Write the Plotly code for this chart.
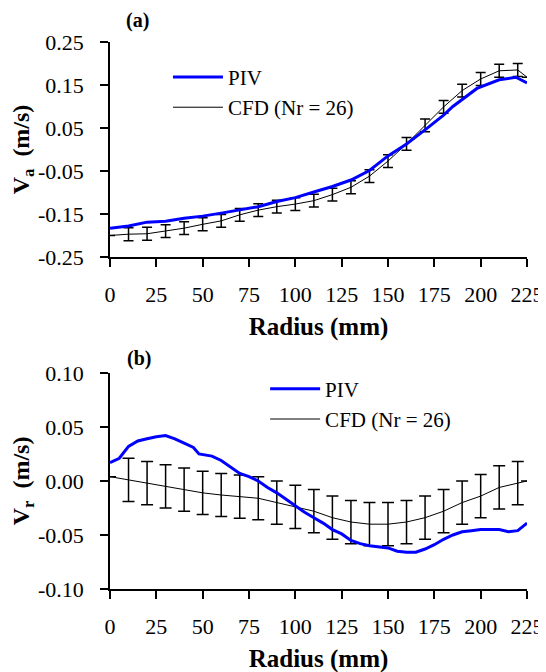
import plotly.graph_objects as go

# ---------------- data ----------------
radius_cfd = [0, 10, 20, 30, 40, 50, 60, 70, 80, 90, 100, 110, 120, 130, 140,
              150, 160, 170, 180, 190, 200, 210, 220, 225]
va_cfd = [-0.200, -0.197, -0.196, -0.190, -0.183, -0.174, -0.166, -0.152, -0.141,
          -0.133, -0.127, -0.119, -0.105, -0.088, -0.062, -0.027, 0.013, 0.056,
          0.099, 0.137, 0.164, 0.183, 0.185, 0.168]
va_cfd_err = [None] + [0.015] * 22 + [None]

vr_cfd = [0.004, 0.001, -0.002, -0.005, -0.008, -0.011, -0.013, -0.0145, -0.016,
          -0.020, -0.024, -0.028, -0.034, -0.038, -0.040, -0.040, -0.038, -0.034,
          -0.028, -0.020, -0.014, -0.006, -0.002, 0.000]
vr_cfd_err = [None] + [0.02] * 22 + [None]

radius_piv_a = [0, 10, 20, 30, 40, 50, 60, 70, 80, 90, 100, 110, 120, 130, 140,
                150, 160, 171, 180, 185, 190, 198, 210, 219, 225]
va_piv = [-0.183, -0.178, -0.169, -0.167, -0.160, -0.155, -0.148, -0.141, -0.133,
          -0.121, -0.112, -0.099, -0.086, -0.071, -0.049, -0.015, 0.013, 0.049,
          0.080, 0.100, 0.116, 0.142, 0.162, 0.168, 0.155]

radius_piv_b = [0, 5, 10, 15, 20, 25, 30, 35, 40, 45, 48, 55, 60, 65, 70, 75, 80,
                85, 90, 95, 100, 105, 110, 115, 120, 125, 130, 135, 140, 145, 150,
                155, 160, 165, 170, 175, 180, 185, 190, 195, 200, 205, 210, 215,
                220, 225]
vr_piv = [0.017, 0.021, 0.032, 0.037, 0.039, 0.041, 0.042, 0.039, 0.035, 0.031,
          0.025, 0.023, 0.019, 0.013, 0.007, 0.004, 0.000, -0.006, -0.011, -0.017,
          -0.023, -0.029, -0.034, -0.039, -0.045, -0.049, -0.055, -0.058, -0.060,
          -0.061, -0.062, -0.065, -0.066, -0.066, -0.063, -0.059, -0.054, -0.050,
          -0.047, -0.046, -0.045, -0.045, -0.045, -0.047, -0.046, -0.039]

x_ticks = [0, 25, 50, 75, 100, 125, 150, 175, 200, 225]
x_ticktext = [str(v) for v in x_ticks]
ya_ticks = [-0.25, -0.15, -0.05, 0.05, 0.15, 0.25]
ya_ticktext = ["-0.25", "-0.15", "-0.05", "0.05", "0.15", "0.25"]
ya_all_ticks = [-0.25, -0.20, -0.15, -0.10, -0.05, 0.00, 0.05, 0.10, 0.15, 0.20, 0.25]
yb_ticks = [-0.10, -0.05, 0.00, 0.05, 0.10]
yb_ticktext = ["-0.10", "-0.05", "0.00", "0.05", "0.10"]
yb_all_ticks = [-0.10, -0.075, -0.05, -0.025, 0.00, 0.025, 0.05, 0.075, 0.10]

series_names = ["PIV", "CFD (Nr = 26)"]

# ---------------- figure ----------------
FONT = "Times New Roman, Liberation Serif, serif"
fig = go.Figure()

# panel (a)
fig.add_trace(go.Scatter(
    x=radius_cfd, y=va_cfd, mode="lines", name=series_names[1],
    line=dict(color="black", width=1),
    error_y=dict(type="data", array=va_cfd_err, color="black", thickness=1.5, width=5),
    xaxis="x", yaxis="y", legend="legend", legendrank=2))
fig.add_trace(go.Scatter(
    x=radius_piv_a, y=va_piv, mode="lines", name=series_names[0],
    line=dict(color="#0000ff", width=3),
    xaxis="x", yaxis="y", legend="legend", legendrank=1))

# panel (b)
fig.add_trace(go.Scatter(
    x=radius_cfd, y=vr_cfd, mode="lines", name=series_names[1],
    line=dict(color="black", width=1),
    error_y=dict(type="data", array=vr_cfd_err, color="black", thickness=1.5, width=6),
    xaxis="x2", yaxis="y2", legend="legend2", legendrank=2))
fig.add_trace(go.Scatter(
    x=radius_piv_b, y=vr_piv, mode="lines", name=series_names[0],
    line=dict(color="#0000ff", width=3),
    xaxis="x2", yaxis="y2", legend="legend2", legendrank=1))

tickfont = dict(family=FONT, size=22, color="black")
titlefont = dict(family=FONT, size=25, color="black")

def xax(anchor):
    return dict(
        domain=[0, 1], anchor=anchor, range=[0, 225], automargin=False,
        tickmode="array", tickvals=x_ticks, ticktext=x_ticktext,
        ticks="outside", ticklen=8, tickwidth=1.5, tickcolor="black",
        showline=True, linecolor="black", linewidth=1.5,
        showgrid=False, zeroline=False, tickfont=tickfont,
        ticklabelstandoff=9,
        title=dict(text="<b>Radius (mm)</b>", font=titlefont, standoff=11),
    )

def xax_inner(over, anchor):
    return dict(
        overlaying=over, anchor=anchor, range=[0, 225], side="bottom",
        automargin=False,
        tickmode="array", tickvals=x_ticks, showticklabels=False,
        ticks="inside", ticklen=8, tickwidth=1.5, tickcolor="black",
        showline=False, showgrid=False, zeroline=False,
    )

def yax(anchor, dom, rng, tv, tt, title):
    return dict(
        domain=dom, anchor=anchor, range=rng, automargin=False,
        tickmode="array", tickvals=tv, ticktext=tt,
        ticks="outside", ticklen=8, tickwidth=1.5, tickcolor="black",
        showline=True, linecolor="black", linewidth=1.5,
        showgrid=False, zeroline=False, tickfont=tickfont,
        ticklabelstandoff=12,
        title=dict(text=title, font=dict(family=FONT, size=24, color="black"),
                   standoff=0),
    )

def yax_inner(over, anchor, rng, tv):
    return dict(
        overlaying=over, anchor=anchor, range=rng, side="left",
        automargin=False,
        tickmode="array", tickvals=tv, showticklabels=False,
        ticks="inside", ticklen=8, tickwidth=1.5, tickcolor="black",
        showline=False, showgrid=False, zeroline=False,
    )

legfont = dict(family=FONT, size=21, color="black")
fig.update_layout(
    width=546, height=672,
    margin=dict(l=102, r=27, t=34, b=91),
    paper_bgcolor="white", plot_bgcolor="white",
    showlegend=True,
    xaxis=xax("y"),
    yaxis=yax("x", [0.607, 1.0], [-0.25, 0.25], ya_ticks, ya_ticktext,
              "<b>V<sub>a</sub>  (m/s)</b>"),
    xaxis2=xax("y2"),
    yaxis2=yax("x2", [0.0, 0.395], [-0.10, 0.10], yb_ticks, yb_ticktext,
               "<b>V<sub>r</sub>  (m/s)</b>"),
    xaxis3=xax_inner("x", "y"),
    yaxis3=yax_inner("y", "x", [-0.25, 0.25], ya_all_ticks),
    xaxis4=xax_inner("x2", "y2"),
    yaxis4=yax_inner("y2", "x2", [-0.10, 0.10], yb_all_ticks),
    legend=dict(x=0.139, y=0.973, xanchor="left", yanchor="top", itemwidth=50,
                font=legfont, bgcolor="rgba(0,0,0,0)", tracegroupgap=0),
    legend2=dict(x=0.372, y=0.403, xanchor="left", yanchor="top", itemwidth=50,
                 font=legfont, bgcolor="rgba(0,0,0,0)", tracegroupgap=0),
    annotations=[
        dict(text="<b>(a)</b>", xref="paper", yref="paper", x=0.065, y=1.04,
             xanchor="center", yanchor="middle", showarrow=False,
             font=dict(family=FONT, size=20, color="black")),
        dict(text="<b>(b)</b>", xref="paper", yref="paper", x=0.07, y=0.422,
             xanchor="center", yanchor="middle", showarrow=False,
             font=dict(family=FONT, size=20, color="black")),
    ],
)

fig.write_html("out.html")
